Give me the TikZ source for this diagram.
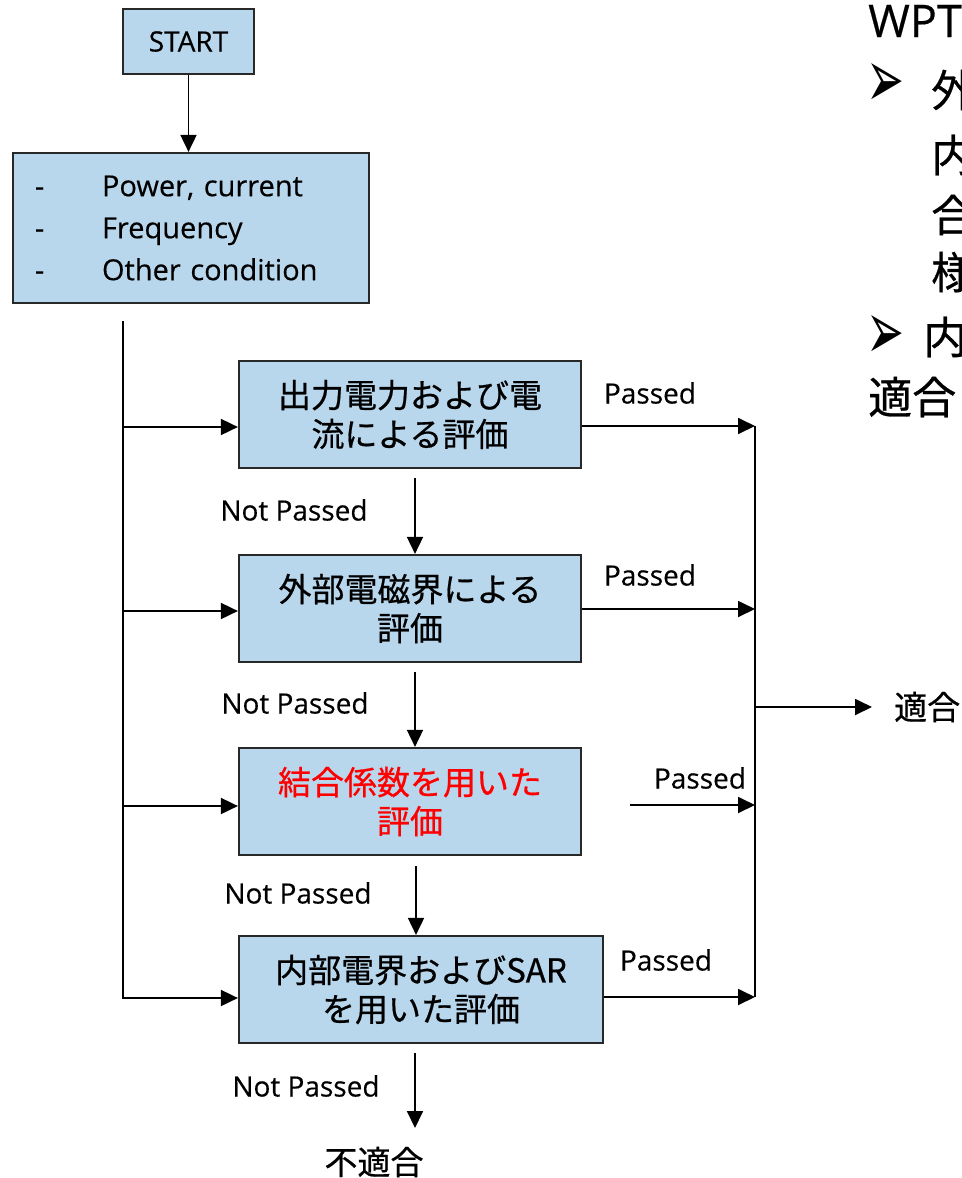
\documentclass[tikz,border=0pt]{standalone}
\usepackage{fontspec}
\setmainfont{Open Sans}[FakeBold=0.35]
\newfontfamily\jp{Noto Sans CJK JP}[FakeBold=0.6]
\newfontfamily\dv{DejaVu Sans}
\usetikzlibrary{arrows.meta}
\definecolor{boxfill}{RGB}{185,215,236}
\definecolor{boxline}{RGB}{40,40,40}
\definecolor{jred}{RGB}{255,0,0}
\tikzset{
  box/.style={draw=boxline, line width=2.2bp, fill=boxfill, inner sep=0pt, align=center},
  arr/.style={line width=1.8bp, -{Triangle[length=17bp,width=16bp]}},
  wire/.style={line width=1.8bp},
  lab/.style={font=\fontsize{28bp}{34bp}\selectfont, inner sep=0pt},
  jtxt/.style={font=\jp\fontsize{33bp}{39bp}\selectfont},
  rj/.style={font=\jp\fontsize{44bp}{50bp}\selectfont, inner sep=0pt, anchor=west},
  bul/.style={font=\dv, inner sep=0pt, anchor=west},
}
\newcommand{\bigbullet}{\resizebox{38bp}{44bp}{➢}}
\begin{document}
\begin{tikzpicture}[x=1bp,y=-1bp]
\useasboundingbox (0,0) rectangle (962,1178);
\clip (0,0) rectangle (962,1178);

% boxes
\node[box, minimum width=131bp, minimum height=65bp, font=\fontsize{28bp}{34bp}\selectfont] (start) at (188.5,41.5) {START};
\node[box, minimum width=356bp, minimum height=150bp, text width=312bp, inner xsep=22bp, align=left, font=\fontsize{29bp}{42bp}\selectfont] (cond) at (191,228)
  {\makebox[67bp][l]{-}Power, current\\\makebox[67bp][l]{-}Frequency\\\makebox[67bp][l]{-}Other condition};
\node[box, jtxt, minimum width=342bp, minimum height=107bp] (b1) at (410,414.5) {出力電力および電\\流による評価};
\node[box, jtxt, minimum width=342bp, minimum height=107bp] (b2) at (410,608.5) {外部電磁界による\\評価};
\node[box, jtxt, text=jred, minimum width=342bp, minimum height=107bp] (b3) at (410,801.5) {結合係数を用いた\\評価};
\node[box, jtxt, minimum width=364bp, minimum height=107bp] (b4) at (421,989.5) {内部電界およびSAR\\を用いた評価};

% start -> conditions
\draw[arr] (start.south) -- (start.south |- cond.north);

% left trunk
\coordinate (tTop) at (123,321);
\coordinate (tBot) at (123,998);
\coordinate (l1) at (123,427);
\coordinate (l2) at (123,611);
\coordinate (l3) at (123,806);
\draw[arr] (tTop) -- (tBot) -- (tBot -| b4.west);
\draw[arr] (l1) -- (l1 -| b1.west);
\draw[arr] (l2) -- (l2 -| b2.west);
\draw[arr] (l3) -- (l3 -| b3.west);

% right bus
\coordinate (r1) at (755,426);
\coordinate (r2) at (755,609);
\coordinate (r3s) at (630,805);
\coordinate (r3) at (755,805);
\coordinate (r4) at (755,997);
\coordinate (o1) at (755,707);
\coordinate (o2) at (872,707);
\draw[wire] (r1) -- (r4);
\draw[arr] (r1 -| b1.east) -- (r1);
\draw[arr] (r2 -| b2.east) -- (r2);
\draw[arr] (r3s) -- (r3);
\draw[arr] (r4 -| b4.east) -- (r4);
\draw[arr] (o1) -- (o2);
\node[jtxt, anchor=west, inner sep=0pt] (ok) at (894,707) {適合};

% passed labels
\node[lab] (p1) at (650,393) {Passed};
\node[lab] (p2) at (650,575) {Passed};
\node[lab] (p3) at (700,778) {Passed};
\node[lab] (p4) at (666,960) {Passed};

% not passed arrows
\coordinate (d1) at (415,478);
\coordinate (d2) at (415,672);
\coordinate (d3) at (416,866);
\coordinate (d4) at (415,1053);
\coordinate (d4e) at (415,1128);
\draw[arr] (d1) -- (d1 |- b2.north);
\draw[arr] (d2) -- (d2 |- b3.north);
\draw[arr] (d3) -- (d3 |- b4.north);
\draw[arr] (d4) -- (d4e);
\node[lab] (np1) at (294,510) {Not Passed};
\node[lab] (np2) at (295,703) {Not Passed};
\node[lab] (np3) at (298,893) {Not Passed};
\node[lab] (np4) at (306,1086) {Not Passed};
\node[jtxt, inner sep=0pt] (ng) at (374,1162) {不適合};

% right text block (cut off by the picture edge, as in the reference)
\node[anchor=west, inner sep=0pt, font=\fontsize{45bp}{50bp}\selectfont] (wpt) at (868,21) {WPT};
\node[bul] (bul1) at (866,85) {\bigbullet};
\node[rj] (c1) at (931,90) {外};
\node[rj] (c2) at (931,155) {内};
\node[rj] (c3) at (931,215) {合};
\node[rj] (c4) at (931,272) {様};
\node[bul] (bul2) at (866,337) {\bigbullet};
\node[rj] (c5) at (923,337) {内};
\node[rj] (c6) at (868,397) {適合};
\end{tikzpicture}
\end{document}
